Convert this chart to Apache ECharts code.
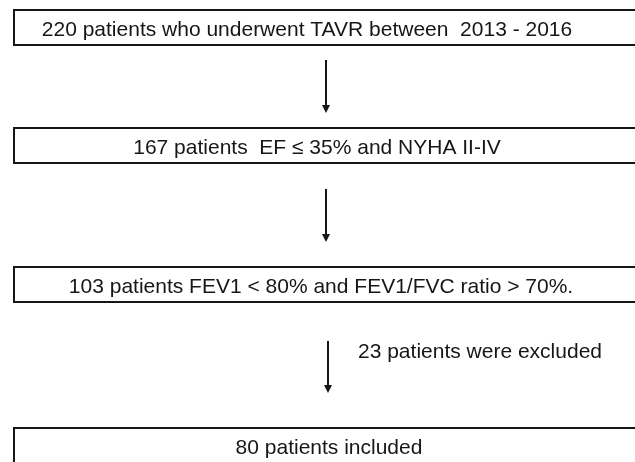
<!DOCTYPE html>
<html>
<head>
<meta charset="utf-8">
<script src="https://cdn.jsdelivr.net/npm/echarts@6/dist/echarts.min.js"></script>
<style>
    html, body { margin: 0; background: #fff; }
    #chart { width: 635px; height: 462px; }
</style>
</head>
<body>
<div id="chart"></div>
<script>
// patients remaining at each stage of the flow
var stepCounts = [220, 167, 103, 80];
var stepTexts = [
    '220 patients who underwent TAVR between  2013 - 2016',
    '167 patients  EF \u2264 35% and NYHA II-IV',
    '103 patients FEV1 < 80% and FEV1/FVC ratio > 70%.',
    '80 patients included'
];
var excludedCount = 23;
var excludedText = '23 patients were excluded';

// layout, in the units of the hidden axes (1 unit = 1 px)
var boxLeft = 14, boxRight = 660, boxH = 35;
var boxTop = [10, 128, 267, 428];
var textX = [307, 317, 321, 329];
var textDy = 2.5;
var arrowX = [326, 326, 328];
var arrowY = [[60, 113], [189, 242], [341, 393]];
var noteX = 358, noteY = 352;

var font = '21px "Liberation Sans", Arial, sans-serif';
var ink = '#161616';

var chart = echarts.init(document.getElementById('chart'));

chart.setOption({
    animation: false,
    grid: {left: 0, right: 0, top: 0, bottom: 0},
    xAxis: {type: 'value', min: 0, max: 635, show: false},
    yAxis: {type: 'value', min: 0, max: 462, inverse: true, show: false},
    series: [
        {
            // the boxes
            type: 'custom',
            data: stepCounts.map(function (c, i) { return [i, c]; }),
            renderItem: function (params, api) {
                var i = params.dataIndex;
                var p0 = api.coord([boxLeft, boxTop[i]]);
                var p1 = api.coord([boxRight, boxTop[i] + boxH]);
                var tc = api.coord([textX[i], boxTop[i] + boxH / 2 + textDy]);
                return {
                    type: 'group',
                    children: [
                        {
                            type: 'rect',
                            shape: {x: p0[0], y: p0[1], width: p1[0] - p0[0], height: p1[1] - p0[1]},
                            style: {fill: '#fff', stroke: ink, lineWidth: 2}
                        },
                        {
                            type: 'text',
                            x: tc[0], y: tc[1],
                            style: {text: stepTexts[i], align: 'center', verticalAlign: 'middle', font: font, fill: ink}
                        }
                    ]
                };
            }
        },
        {
            // the arrows between boxes
            type: 'custom',
            data: arrowY.map(function (a, i) { return [i, stepCounts[i] - stepCounts[i + 1]]; }),
            renderItem: function (params, api) {
                var i = params.dataIndex;
                var a = api.coord([arrowX[i], arrowY[i][0]]);
                var b = api.coord([arrowX[i], arrowY[i][1]]);
                var children = [
                    {
                        type: 'line',
                        shape: {x1: a[0], y1: a[1], x2: b[0], y2: b[1] - 6},
                        style: {stroke: ink, lineWidth: 2}
                    },
                    {
                        type: 'polygon',
                        shape: {points: [[b[0] - 4, b[1] - 8], [b[0] + 4, b[1] - 8], [b[0], b[1]]]},
                        style: {fill: ink}
                    }
                ];
                if (i === 2) {
                    var n = api.coord([noteX, noteY]);
                    children.push({
                        type: 'text',
                        x: n[0], y: n[1],
                        style: {text: excludedText, align: 'left', verticalAlign: 'middle', font: font, fill: ink}
                    });
                }
                return {type: 'group', children: children};
            }
        }
    ]
});
</script>
</body>
</html>
